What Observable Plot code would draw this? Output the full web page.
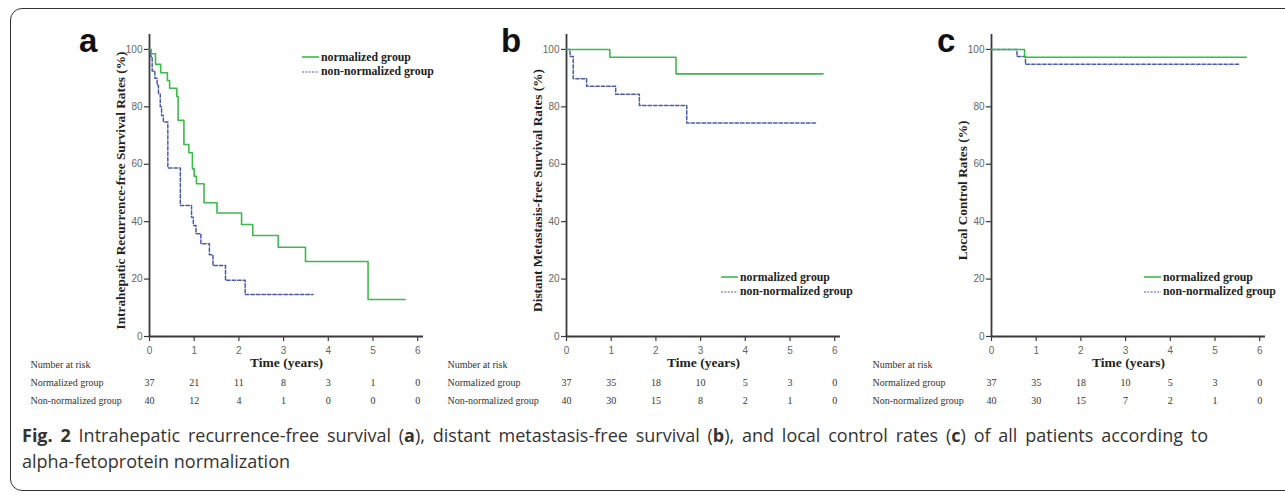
<!DOCTYPE html>
<html>
<head>
<meta charset="utf-8">
<script src="https://cdn.jsdelivr.net/npm/d3@7"></script>
<script src="https://cdn.jsdelivr.net/npm/@observablehq/plot@0.6"></script>
<style>
  html, body { margin: 0; padding: 0; background: #fff; }
  body { width: 1285px; height: 495px; overflow: hidden; position: relative; }
  .frame { position: absolute; left: 10px; top: 8px; width: 1400px; height: 483px;
           border: 1.6px solid #333; border-radius: 12px; box-sizing: border-box; }
  .panel { position: absolute; top: 0; }
  .letter { position: absolute; top: 24px; font: bold 33px "Liberation Sans", Arial, sans-serif; line-height: 33px; color: #111; }
  .legend { position: absolute; font: bold 11.8px "Liberation Serif", "Times New Roman", serif; color: #222; }
  .legend .row { display: flex; align-items: center; height: 14.5px; white-space: nowrap; }
  .legend svg { display: block; margin-right: 2px; }
  .caption { position: absolute; left: 22px; top: 422px; font: 18px "Open Sans", sans-serif; line-height: 26px; color: #333; }
  .caption .l1 { width: 1186px; text-align: justify; text-align-last: justify; white-space: nowrap; }
  .caption .l2 { white-space: nowrap; }
  .caption b { font-weight: 700; }
</style>
</head>
<body>
<div class="frame"></div>
<div id="root"></div>
<div class="caption"><div class="l1"><b>Fig. 2</b> Intrahepatic recurrence-free survival (<b>a</b>), distant metastasis-free survival (<b>b</b>), and local control rates (<b>c</b>) of all patients according to</div><div class="l2">alpha-fetoprotein normalization</div></div>
<script>
// ---------- data ----------
const groups = ["normalized group", "non-normalized group"];
const riskGroups = ["Normalized group", "Non-normalized group"];
const xTicks = [0, 1, 2, 3, 4, 5, 6];
const yTicks = [0, 20, 40, 60, 80, 100];

// Panel a
const aNormT = [0, 0.04, 0.135, 0.25, 0.40, 0.45, 0.61, 0.64, 0.77, 0.88, 0.96, 1.00, 1.05, 1.22, 1.51, 2.06, 2.31, 2.88, 3.49, 4.89, 5.72];
const aNormS = [100, 98.5, 94.8, 91.9, 89.2, 86.5, 83.6, 75.3, 66.9, 64.0, 58.4, 55.8, 53.2, 46.6, 43.0, 39.0, 35.2, 31.1, 26.1, 12.9, 12.9];
const aNonT = [0, 0.03, 0.06, 0.12, 0.17, 0.20, 0.24, 0.27, 0.31, 0.41, 0.69, 0.94, 0.98, 1.04, 1.15, 1.34, 1.42, 1.70, 2.14, 3.66];
const aNonS = [100, 97.5, 92.5, 90, 87.5, 84.5, 80, 77, 74.7, 58.7, 45.6, 41.5, 38.7, 35.8, 32.3, 28.5, 24.7, 19.6, 14.6, 14.6];
const aRiskNorm = [37, 21, 11, 8, 3, 1, 0];
const aRiskNon = [40, 12, 4, 1, 0, 0, 0];

// Panel b
const bNormT = [0, 0.97, 2.45, 5.74];
const bNormS = [100, 97.3, 91.5, 91.5];
const bNonT = [0, 0.08, 0.15, 0.45, 1.10, 1.63, 2.69, 5.57];
const bNonS = [100, 97.5, 89.8, 87.2, 84.4, 80.5, 74.4, 74.4];
const bRiskNorm = [37, 35, 18, 10, 5, 3, 0];
const bRiskNon = [40, 30, 15, 8, 2, 1, 0];

// Panel c
const cNormT = [0, 0.74, 5.70];
const cNormS = [100, 97.3, 97.3];
const cNonT = [0, 0.57, 0.76, 5.57];
const cNonS = [100, 97.5, 94.8, 94.8];
const cRiskNorm = [37, 35, 18, 10, 5, 3, 0];
const cRiskNon = [40, 30, 15, 7, 2, 1, 0];

const panels = [
  {letter: "a", axisX: 149, ylabel: "Intrahepatic Recurrence-free Survival Rates (%)",
   normT: aNormT, normS: aNormS, nonT: aNonT, nonS: aNonS, riskNorm: aRiskNorm, riskNon: aRiskNon,
   legend: {left: 302, top: 50}},
  {letter: "b", axisX: 566, ylabel: "Distant Metastasis-free Survival Rates (%)",
   normT: bNormT, normS: bNormS, nonT: bNonT, nonS: bNonS, riskNorm: bRiskNorm, riskNon: bRiskNon,
   legend: {left: 721, top: 270}},
  {letter: "c", axisX: 991, ylabel: "Local Control Rates (%)",
   normT: cNormT, normS: cNormS, nonT: cNonT, nonS: cNonS, riskNorm: cRiskNorm, riskNon: cRiskNon,
   legend: {left: 1144, top: 270}}
];

// ---------- styles ----------
const GREEN = "#3fb94d";
const BLUE = "#4a5cae";
const AXIS = "#3a3a3a";
const SERIF = "Liberation Serif, Times New Roman, serif";
const SANS = "Liberation Sans, Arial, sans-serif";
const ML = 149, MR = 10, MT = 34, MB = 79, W = 433, H = 415;
const XMAX = 6.13, YMAX = 105.2;

const root = document.getElementById("root");
const letterOffsets = {a: -70, b: -65, c: -54};

for (const p of panels) {
  const norm = p.normT.map((t, i) => ({t, s: p.normS[i]}));
  const non = p.nonT.map((t, i) => ({t, s: p.nonS[i]}));
  const chart = Plot.plot({
    width: W, height: H,
    marginLeft: ML, marginRight: MR, marginTop: MT, marginBottom: MB,
    x: {domain: [0, XMAX]},
    y: {domain: [0, YMAX]},
    style: {background: "transparent", overflow: "visible"},
    marks: [
      Plot.axisY({ticks: yTicks, tickFormat: d3.format("d"), tickSize: 5, tickPadding: 2, label: null, fontSize: 10,
                  fontFamily: SANS, fill: "#666", stroke: AXIS, strokeWidth: 1.2}),
      Plot.axisX({ticks: xTicks, tickFormat: d3.format("d"), tickSize: 5, tickPadding: 5, label: null, fontSize: 10,
                  fontFamily: SANS, fill: "#666", stroke: AXIS, strokeWidth: 1.2}),
      Plot.ruleX([0], {stroke: AXIS, strokeWidth: 1.8}),
      Plot.ruleY([0], {stroke: AXIS, strokeWidth: 1.8}),
      Plot.line(non, {x: "t", y: "s", curve: "step-after", stroke: BLUE, strokeWidth: 1.5, strokeDasharray: "3.5,2"}),
      Plot.line(norm, {x: "t", y: "s", curve: "step-after", stroke: GREEN, strokeWidth: 1.6}),
      Plot.text([p.ylabel], {frameAnchor: "left", textAnchor: "middle", rotate: -90, dx: -29, dy: 5, fontWeight: "bold",
                 fontFamily: SERIF, fontSize: 13.3, fill: "#222"}),
      Plot.text(["Time (years)"], {frameAnchor: "bottom", dy: 30, fontWeight: "bold",
                 fontFamily: SERIF, fontSize: 13.5, fill: "#222"}),
      Plot.text(["Number at risk"], {frameAnchor: "bottom-left", textAnchor: "start", dx: -119, dy: 31,
                 fontFamily: SERIF, fontSize: 10, fill: "#333"}),
      Plot.text([riskGroups[0]], {frameAnchor: "bottom-left", textAnchor: "start", dx: -119, dy: 49,
                 fontFamily: SERIF, fontSize: 10, fill: "#333"}),
      Plot.text([riskGroups[1]], {frameAnchor: "bottom-left", textAnchor: "start", dx: -119, dy: 67,
                 fontFamily: SERIF, fontSize: 10, fill: "#333"}),
      Plot.text(xTicks, {x: d => d, text: (d, i) => String(p.riskNorm[i]), frameAnchor: "bottom", dy: 49,
                 fontFamily: SERIF, fontSize: 10, fill: "#333"}),
      Plot.text(xTicks, {x: d => d, text: (d, i) => String(p.riskNon[i]), frameAnchor: "bottom", dy: 67,
                 fontFamily: SERIF, fontSize: 10, fill: "#333"})
    ]
  });
  const wrap = document.createElement("div");
  wrap.className = "panel";
  wrap.style.left = (p.axisX - ML) + "px";
  wrap.appendChild(chart);
  root.appendChild(wrap);

  const letter = document.createElement("div");
  letter.className = "letter";
  letter.textContent = p.letter;
  letter.style.left = (p.axisX + letterOffsets[p.letter]) + "px";
  root.appendChild(letter);

  const lg = document.createElement("div");
  lg.className = "legend";
  lg.style.left = p.legend.left + "px";
  lg.style.top = p.legend.top + "px";
  lg.innerHTML =
    `<div class="row"><svg width="17" height="4"><line x1="0" x2="17" y1="2" y2="2" stroke="${GREEN}" stroke-width="1.6"/></svg>${groups[0]}</div>` +
    `<div class="row"><svg width="17" height="4"><line x1="0" x2="17" y1="2" y2="2" stroke="${BLUE}" stroke-width="1.2" stroke-dasharray="2,1.3"/></svg>${groups[1]}</div>`;
  root.appendChild(lg);
}
</script>
</body>
</html>
